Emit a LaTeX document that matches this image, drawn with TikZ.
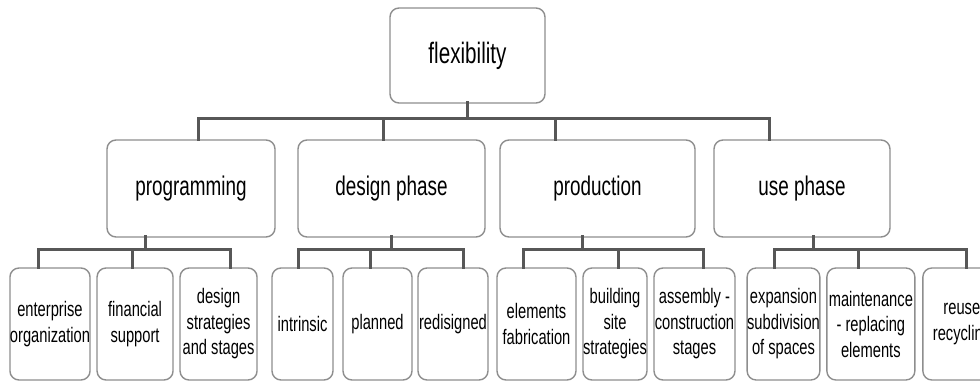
\documentclass[tikz,border=0pt]{standalone}
\usepackage{fontspec}
\setmainfont[FakeStretch=0.7]{Liberation Sans}
\usepackage{tikz}
\usetikzlibrary{positioning}

\definecolor{boxgray}{HTML}{8E8E8E}
\definecolor{linegray}{HTML}{575757}

\tikzset{
  box/.style={draw=boxgray, line width=1.4pt, rounded corners=9pt, fill=white, align=center, outer sep=0pt, inner sep=0pt},
  rootbox/.style={box, minimum width=155pt, minimum height=95pt, font=\fontsize{29.5}{34}\selectfont},
  phasebox/.style={box, minimum height=97pt, font=\fontsize{27}{32}\selectfont},
  leafbox/.style={box, minimum height=112pt, font=\fontsize{21}{25.5}\selectfont},
  link/.style={draw=linegray, line width=3pt, line cap=rect}
}

\begin{document}
\begin{tikzpicture}[x=1pt, y=1pt]
    \useasboundingbox (0,0) rectangle (980,383);

    \node[rootbox] (root) at (467.5,327.5) {flexibility};

    \node[phasebox, minimum width=168pt] (prog) at (191,194.5) {programming};
    \node[phasebox, minimum width=187pt, right=23pt of prog] (design) {design phase};
    \node[phasebox, minimum width=195pt, right=15pt of design] (prod) {production};
    \node[phasebox, minimum width=176pt, right=19pt of prod] (use) {use phase};

    \node[leafbox, minimum width=80pt] (ent) at (50,59) {enterprise\\organization};
    \node[leafbox, minimum width=76pt, right=7pt of ent] (fin) {financial\\support};
    \node[leafbox, minimum width=77pt, right=7pt of fin] (dstr) {design\\strategies\\and stages};

    \node[leafbox, minimum width=61pt] (intr) at (302.5,59) {intrinsic};
    \node[leafbox, minimum width=69pt, right=10pt of intr] (plan) {planned};
    \node[leafbox, minimum width=70pt, right=6pt of plan] (redi) {redisigned};

    \node[leafbox, minimum width=79pt] (elem) at (536.5,59) {elements\\fabrication};
    \node[leafbox, minimum width=64pt, right=7pt of elem] (site) {building\\site\\strategies};
    \node[leafbox, minimum width=81pt, right=7pt of site] (asm) {assembly -\\construction\\stages};

    \node[leafbox, minimum width=71pt] (expa) at (783.5,59) {expansion\\subdivision\\of spaces};
    \node[leafbox, minimum width=88pt, right=7pt of expa] (maint) {maintenance\\- replacing\\elements};
    \node[leafbox, minimum width=78pt, right=8pt of maint] (reuse) {reuse\\recycling};

    % root to phases
    \draw[link] (root.south) -- ++(0,-16);
    \draw[link] ([xshift=7pt,yshift=21pt]prog.north) -- ([xshift=-33pt,yshift=21pt]use.north);
    \foreach \n/\dx in {prog/7, design/-8.5, prod/-42.5, use/-33}
        \draw[link] ([xshift=\dx pt]\n.north) -- ++(0,21);

    % phases to leaves
    \foreach \p/\dp/\a/\da/\b/\db/\c/\dc in {
        prog/-46/ent/-12/fin/-3/dstr/11.5,
        design/-0.5/intr/-4.5/plan/-7.5/redi/10,
        prod/-15.5/elem/-13.5/site/3/asm/8.5,
        use/11/expa/-9.5/maint/-12/reuse/5}
    {
        \draw[link] ([xshift=\dp pt]\p.south) -- ++(0,-13);
        \draw[link] ([xshift=\da pt,yshift=18pt]\a.north) -- ([xshift=\dc pt,yshift=18pt]\c.north);
        \draw[link] ([xshift=\da pt]\a.north) -- ++(0,18);
        \draw[link] ([xshift=\db pt]\b.north) -- ++(0,18);
        \draw[link] ([xshift=\dc pt]\c.north) -- ++(0,18);
    }
\end{tikzpicture}
\end{document}
